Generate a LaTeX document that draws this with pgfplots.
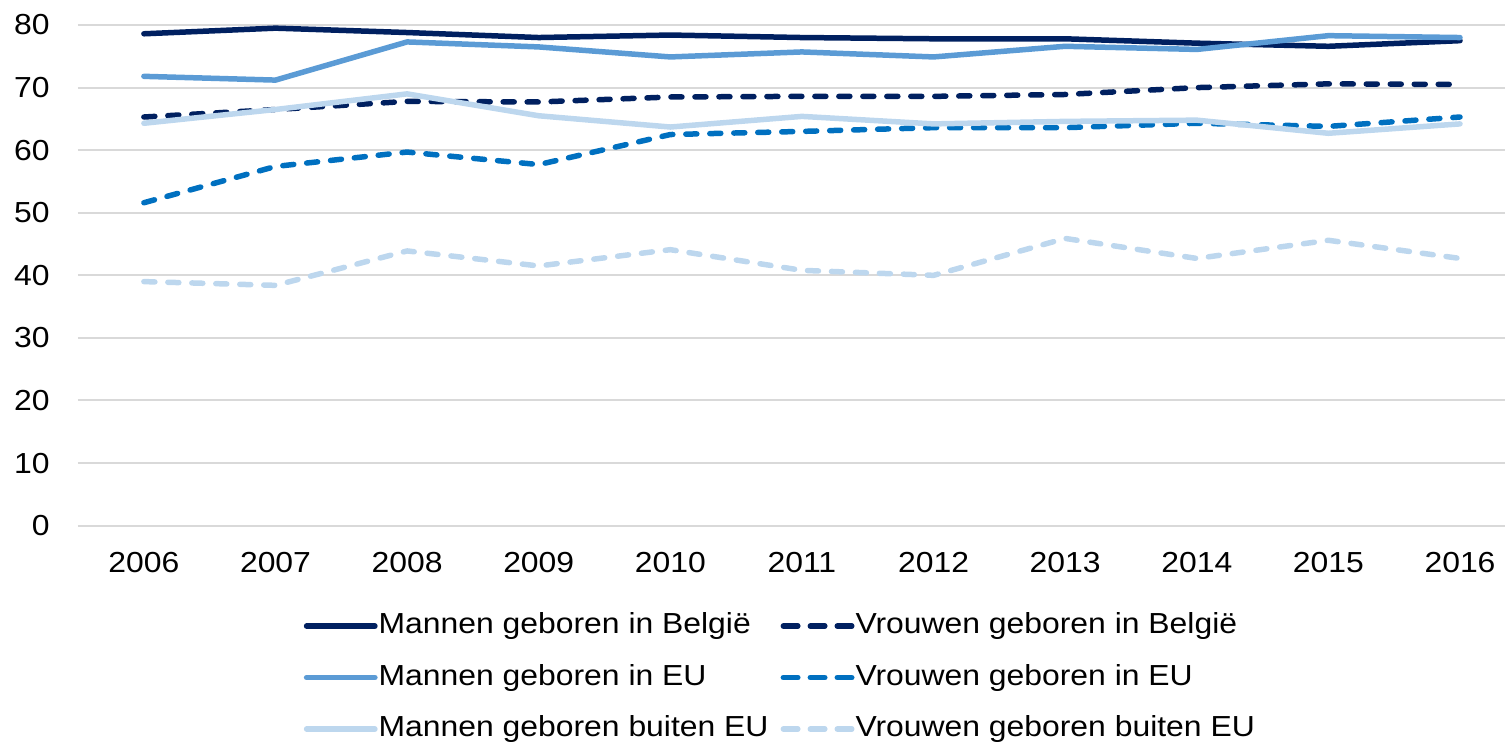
\documentclass[border=0pt]{standalone}
\usepackage{fontspec}
\setmainfont{Liberation Sans}[FakeStretch=1.1]
\usepackage{pgfplots}
\pgfplotsset{compat=1.18}
\definecolor{navy}{HTML}{002060}
\definecolor{midblue}{HTML}{5B9BD5}
\definecolor{eublue}{HTML}{0070C0}
\definecolor{lightblue}{HTML}{BDD7EE}
\definecolor{gridgray}{HTML}{D9D9D9}
\pgfplotsset{dashlegend/.style={legend image code/.code={\draw[##1, dash pattern=on 7.25pt off 6.25pt] (1.4pt,0pt) -- (35.65pt,0pt);}}}
\begin{document}
\fontsize{14.5pt}{16pt}\selectfont
\begin{tikzpicture}
\begin{axis}[
  scale only axis,
  width=714pt, height=263pt,
  xmin=2005.499, xmax=2016.342,
  ymin=0, ymax=84,
  xtick={2006,2007,2008,2009,2010,2011,2012,2013,2014,2015,2016},
  xticklabels={2006,2007,2008,2009,2010,2011,2012,2013,2014,2015,2016},
  ytick={0,10,20,30,40,50,60,70,80},
  yticklabels={0,10,20,30,40,50,60,70,80},
  ymajorgrids,
  grid style={gridgray, line width=1pt},
  axis line style={draw=none},
  tick style={draw=none},
  x tick label style={font=\fontsize{14.5pt}{16pt}\selectfont, inner sep=0pt, anchor=north, yshift=-13pt},
  y tick label style={font=\fontsize{14.5pt}{16pt}\selectfont, inner sep=0pt, anchor=east, xshift=-14pt},
  legend columns=2,
  legend cell align=left,
  legend style={at={(0.4915,-0.289)}, anchor=center, draw=none, fill=none,
    font=\fontsize{14.5pt}{16pt}\selectfont,
    nodes={inner sep=0pt, text height=10.5pt, text depth=3pt},
    column sep=0.5pt, row sep=12.25pt,
    /tikz/every even column/.append style={column sep=6pt}},
  legend image code/.code={\draw[#1] (1.4pt,0pt) -- (35.6pt,0pt);},
  every axis plot/.append style={line width=2.75pt, line join=round},
]
\addplot[navy, line cap=round] coordinates {(2006,78.6) (2007,79.5) (2008,78.8) (2009,78.0) (2010,78.4) (2011,78.0) (2012,77.8) (2013,77.8) (2014,77.1) (2015,76.6) (2016,77.5)};
\addlegendentry{Mannen geboren in België}
\addplot[navy, line cap=round, dash pattern=on 5.5pt off 6.5pt, dashlegend] coordinates {(2006,65.3) (2007,66.5) (2008,67.8) (2009,67.7) (2010,68.5) (2011,68.6) (2012,68.6) (2013,68.9) (2014,70.0) (2015,70.6) (2016,70.5)};
\addlegendentry{Vrouwen geboren in België}
\addplot[midblue, line cap=round] coordinates {(2006,71.8) (2007,71.2) (2008,77.3) (2009,76.5) (2010,74.9) (2011,75.7) (2012,74.9) (2013,76.6) (2014,76.1) (2015,78.3) (2016,78.0)};
\addlegendentry{Mannen geboren in EU}
\addplot[eublue, line cap=round, dash pattern=on 5.5pt off 6.5pt, dashlegend] coordinates {(2006,51.6) (2007,57.4) (2008,59.7) (2009,57.7) (2010,62.5) (2011,63.0) (2012,63.6) (2013,63.6) (2014,64.3) (2015,63.8) (2016,65.3)};
\addlegendentry{Vrouwen geboren in EU}
\addplot[lightblue, line cap=round] coordinates {(2006,64.3) (2007,66.5) (2008,69.0) (2009,65.5) (2010,63.7) (2011,65.4) (2012,64.2) (2013,64.6) (2014,64.8) (2015,62.7) (2016,64.2)};
\addlegendentry{Mannen geboren buiten EU}
\addplot[lightblue, line cap=round, dash pattern=on 5.5pt off 6.5pt, dashlegend] coordinates {(2006,39.0) (2007,38.4) (2008,43.9) (2009,41.5) (2010,44.1) (2011,40.8) (2012,40.0) (2013,45.9) (2014,42.7) (2015,45.6) (2016,42.7)};
\addlegendentry{Vrouwen geboren buiten EU}
\end{axis}
\path (current axis.south west) ++(-39pt,-109pt);
\end{tikzpicture}
\end{document}
